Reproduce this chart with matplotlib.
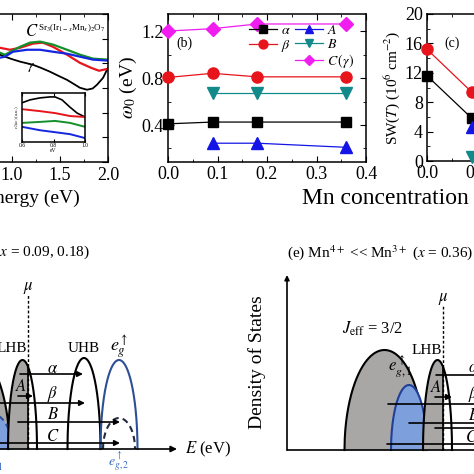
import numpy as np
import matplotlib.pyplot as plt
from matplotlib.ticker import MultipleLocator
from matplotlib.lines import Line2D

plt.rcParams['font.family'] = ['Liberation Serif', 'DejaVu Serif']
plt.rcParams['mathtext.fontset'] = 'stix'
plt.rcParams['axes.linewidth'] = 1.1
plt.rcParams['xtick.direction'] = 'in'
plt.rcParams['ytick.direction'] = 'in'
plt.rcParams['xtick.top'] = True
plt.rcParams['ytick.right'] = True
plt.rcParams['xtick.major.size'] = 4
plt.rcParams['ytick.major.size'] = 4
plt.rcParams['xtick.minor.size'] = 2.5
plt.rcParams['ytick.minor.size'] = 2.5

# (a) optical conductivity (arb. units)
e_black = [0.85, 0.875, 0.927, 1.0, 1.083, 1.219, 1.30, 1.396, 1.48, 1.573, 1.708, 1.781, 1.84, 1.885, 1.948, 2.0]
s_black = [4.38, 4.35, 4.27, 4.17, 4.07, 3.94, 3.82, 3.66, 3.50, 3.33, 3.01, 2.93, 2.98, 3.13, 3.41, 3.82]
e_red = [0.85, 0.875, 0.979, 1.083, 1.219, 1.32, 1.427, 1.573, 1.708, 1.823, 1.906, 2.0]
s_red = [4.65, 4.63, 4.55, 4.63, 4.80, 4.84, 4.67, 4.35, 4.02, 3.82, 3.70, 3.78]
e_green = [0.85, 0.875, 0.927, 1.083, 1.188, 1.292, 1.427, 1.573, 1.708, 1.844, 2.0]
s_green = [4.45, 4.43, 4.35, 4.67, 4.84, 4.88, 4.76, 4.55, 4.35, 4.19, 4.15]
e_blue = [0.85, 0.875, 0.927, 1.01, 1.156, 1.292, 1.427, 1.573, 1.708, 1.844, 2.0]
s_blue = [4.22, 4.23, 4.27, 4.47, 4.55, 4.55, 4.47, 4.39, 4.27, 4.15, 4.11]

# (a) inset
ins_e = [0.6, 0.651, 0.714, 0.778, 0.81, 0.854, 0.905, 0.95, 1.0]
ins_black = [0.80, 0.86, 0.90, 0.92, 0.92, 0.86, 0.71, 0.59, 0.51]
ins_e5 = [0.6, 0.714, 0.81, 0.905, 1.0]
ins_red = [0.67, 0.63, 0.59, 0.53, 0.51]
ins_green = [0.39, 0.41, 0.43, 0.39, 0.31]
ins_blue = [0.31, 0.24, 0.20, 0.16, 0.08]

# (b) peak energies
mn_x = [0.0, 0.09, 0.18, 0.36]
w_alpha = [0.41, 0.425, 0.425, 0.425]
w_beta = [0.805, 0.84, 0.81, 0.81]
w_C = [1.20, 1.22, 1.26, 1.26]
mn_x_AB = [0.09, 0.18, 0.36]
w_A = [0.245, 0.245, 0.21]
w_B = [0.675, 0.675, 0.675]

# (c) spectral weight
sw_x = [0.0, 0.09]
sw_beta = [15.2, 9.4]
sw_alpha = [11.6, 5.85]
sw_x_AB = [0.09]
sw_A = [4.6]
sw_B = [0.5]

# (d)/(e) schematic bands: name, centre, half width, height
bands_d = {'Jeff': (9.75, 4.0, 10.0), 'eg1': (12.0, 2.0, 3.5), 'LHB': (15.05, 1.45, 8.9),
           'UHB': (21.2, 1.65, 9.1), 'eg': (24.7, 1.85, 8.9), 'eg2': (24.7, 1.6, 3.1)}
bands_e = {'Jeff': (9.75, 4.0, 10.0), 'eg1': (12.2, 1.8, 6.5), 'LHB': (15.05, 1.45, 9.0)}
mu = 15.6
# transitions: start, end, height
trans_d = {'alpha': (14.8, 21.1, 7.5), 'A': (14.6, 16.1, 5.3), 'beta': (10.1, 21.3, 4.6),
           'B': (14.6, 24.8, 2.7), 'C': (10.0, 24.8, 0.6)}
trans_e = {'alpha': (14.9, 21.1, 7.5), 'A': (14.8, 16.5, 5.3), 'beta': (10.1, 21.3, 4.6),
           'B': (12.2, 24.8, 2.7), 'B2': (14.8, 24.8, 2.2), 'C': (10.0, 24.8, 0.6)}

W = 474
fig = plt.figure(figsize=(4.74, 4.74), dpi=100)


def px_axes(l, t, r, b):
    return fig.add_axes([l / W, 1 - b / W, (r - l) / W, (b - t) / W])


# ---- (a)
ax_a = px_axes(-45.6, 14, 108, 162)
ax_a.plot(e_black, s_black, color='k', lw=1.3)
ax_a.plot(e_red, s_red, color='#e8141c', lw=1.6)
ax_a.plot(e_green, s_green, color='#12902a', lw=1.6)
ax_a.plot(e_blue, s_blue, color='#1426e0', lw=1.6)
ax_a.set_xlim(0.4, 2.0)
ax_a.set_ylim(0, 6)
ax_a.xaxis.set_major_locator(MultipleLocator(0.5))
ax_a.xaxis.set_minor_locator(MultipleLocator(0.25))
ax_a.yaxis.set_major_locator(MultipleLocator(1))
ax_a.set_yticklabels([])
ax_a.tick_params(labelsize=13)
ax_a.set_xlabel('Energy (eV)', fontsize=14, labelpad=4)
ax_a.text(0.505, 0.88, '$C$', transform=ax_a.transAxes, fontsize=12, ha='center', va='center')
ax_a.text(0.545, 0.905, 'Sr$_3$(Ir$_{1-x}$Mn$_x$)$_2$O$_7$', transform=ax_a.transAxes,
          fontsize=6.5, ha='left', va='center')
ax_a.text(0.50, 0.64, r'$\gamma$', transform=ax_a.transAxes, fontsize=10, ha='center', va='center')

ins = px_axes(22, 93, 85, 142)
ins.plot(ins_e, ins_black, color='k', lw=1.2)
ins.plot(ins_e5, ins_red, color='#e8141c', lw=1.4)
ins.plot(ins_e5, ins_green, color='#12902a', lw=1.4)
ins.plot(ins_e5, ins_blue, color='#1426e0', lw=1.4)
ins.set_xlim(0.6, 1.0)
ins.set_ylim(0, 1)
ins.set_xticks([0.6, 0.8, 1.0])
ins.set_yticks([])
ins.tick_params(labelsize=4, length=2, pad=1)
ins.set_xlabel('eV', fontsize=4, labelpad=0)
ins.set_ylabel(r'$\varepsilon_2(\omega)$ (a.u.)', fontsize=3.5, labelpad=1)

# ---- (b)
ax_b = px_axes(168, 14, 366, 162)
h_alpha, = ax_b.plot(mn_x, w_alpha, color='k', marker='s', ms=7, lw=0.9, clip_on=False, zorder=3)
h_beta, = ax_b.plot(mn_x, w_beta, color='#e8141c', marker='o', ms=8, lw=0.9, clip_on=False, zorder=3)
h_C, = ax_b.plot(mn_x, w_C, color='#f01cf0', marker='D', ms=7, lw=0.9, clip_on=False, zorder=3)
h_A, = ax_b.plot(mn_x_AB, w_A, color='#1414e6', marker='^', ms=8, lw=0.9, clip_on=False, zorder=3)
h_B, = ax_b.plot(mn_x_AB, w_B, color='#138a8a', marker='v', ms=8, lw=0.9, clip_on=False, zorder=3)
ax_b.set_xlim(0, 0.4)
ax_b.set_ylim(0.085, 1.345)
ax_b.xaxis.set_major_locator(MultipleLocator(0.1))
ax_b.xaxis.set_minor_locator(MultipleLocator(0.05))
ax_b.yaxis.set_major_locator(MultipleLocator(0.4))
ax_b.yaxis.set_minor_locator(MultipleLocator(0.2))
ax_b.tick_params(labelsize=13, pad=3)
ax_b.set_ylabel(r'$\omega_0$ (eV)', fontsize=14, labelpad=2)
ax_b.text(0.083, 0.80, '(b)', transform=ax_b.transAxes, fontsize=10, ha='center', va='center')
blank = Line2D([], [], linestyle='none')
ax_b.legend([h_alpha, h_beta, blank, h_A, h_B, h_C],
            [r'$\alpha$', r'$\beta$', '', '$A$', '$B$', r'$C\,(\gamma)$'],
            ncol=2, loc='upper left', bbox_to_anchor=(0.41, 0.93), frameon=False,
            fontsize=10, handlelength=2.0, handletextpad=0.3, columnspacing=0.3,
            labelspacing=0.05, borderpad=0, borderaxespad=0, markerscale=0.8)

# ---- (c)
ax_c = px_axes(427, 14, 625, 161)
ax_c.plot(sw_x, sw_beta, color='#e8141c', marker='o', ms=8, lw=0.9, clip_on=False, zorder=3)
ax_c.plot(sw_x, sw_alpha, color='k', marker='s', ms=7, lw=0.9, clip_on=False, zorder=3)
ax_c.plot(sw_x_AB, sw_A, color='#1414e6', marker='^', ms=8, lw=0.9, clip_on=False, zorder=3)
ax_c.plot(sw_x_AB, sw_B, color='#138a8a', marker='v', ms=8, lw=0.9, clip_on=False, zorder=3)
ax_c.set_xlim(0, 0.4)
ax_c.set_ylim(0, 20)
ax_c.xaxis.set_major_locator(MultipleLocator(0.1))
ax_c.xaxis.set_minor_locator(MultipleLocator(0.05))
ax_c.yaxis.set_major_locator(MultipleLocator(4))
ax_c.yaxis.set_minor_locator(MultipleLocator(2))
ax_c.tick_params(labelsize=13, pad=3)
ax_c.set_ylabel(r'SW($T$) (10$^6$ cm$^{-2}$)', fontsize=11, labelpad=2)
ax_c.text(0.126, 0.80, '(c)', transform=ax_c.transAxes, fontsize=10, ha='center', va='center')

fig.text(302 / W, 1 - 199 / W, 'Mn concentration', fontsize=17, ha='left', va='center')


# ---- schematic helpers
def dome(c, hw, h):
    x = np.linspace(c - hw, c + hw, 300)
    y = h * np.sqrt(np.clip(1 - ((x - c) / hw) ** 2, 0, None))
    return x, y


def draw_band(ax, band, face=None, edge='k', ls='-', upto=None, z=2):
    x, y = dome(*band)
    if face is not None:
        m = x <= upto if upto is not None else np.ones_like(x, dtype=bool)
        ax.fill_between(x[m], 0, y[m], color=face, lw=0, zorder=z)
        if upto is not None:
            hm = np.interp(upto, x, y)
            ax.plot([upto, upto], [0, hm], color='k', lw=1.2, zorder=z + 0.5)
    ax.plot(x, y, color=edge, lw=1.5, ls=ls, zorder=z + 0.6)


def draw_trans(ax, tr, head=True):
    s, e, y = tr
    ax.annotate('', xy=(e, y), xytext=(s, y),
                arrowprops=dict(arrowstyle='-|>' if head else '-', lw=1.2, color='k',
                                mutation_scale=8, shrinkA=0, shrinkB=0), zorder=6)


gray = '#a9a7a6'
bluef = '#7d9fdc'
bluee = '#2d4f96'

# ---- (d)
ax_d = px_axes(-148, 240, 250, 470)
ax_d.set_xlim(-2.0, 37.8)
ax_d.set_ylim(-2.1, 20.9)
ax_d.axis('off')
draw_band(ax_d, bands_d['Jeff'], face=gray, z=1)
draw_band(ax_d, bands_d['eg1'], face=bluef, edge=bluee, ls=(0, (3, 2)), z=2)
draw_band(ax_d, bands_d['LHB'], face=gray, upto=mu, z=3)
draw_band(ax_d, bands_d['UHB'])
draw_band(ax_d, bands_d['eg'], edge=bluee)
draw_band(ax_d, bands_d['eg2'], edge='#222a40', ls=(0, (3, 2)))
ax_d.plot([mu, mu], [0, 15.4], color='k', lw=1, ls=(0, (2, 1.5)), zorder=4)
ax_d.annotate('', xy=(30.5, 0), xytext=(0, 0),
              arrowprops=dict(arrowstyle='-|>', lw=1.2, color='k', mutation_scale=9,
                              shrinkA=0, shrinkB=0), zorder=7)
for k in trans_d:
    draw_trans(ax_d, trans_d[k])
ax_d.text(31.3, 0, '$E$ (eV)', fontsize=12, ha='left', va='center')
ax_d.text(mu, 16.1, r'$\mu$', fontsize=12, ha='center', va='center')
ax_d.text(14.0, 10.1, 'LHB', fontsize=11, ha='center', va='center')
ax_d.text(21.2, 10.1, 'UHB', fontsize=11, ha='center', va='center')
ax_d.text(24.7, 10.2, r'$e_g^{\uparrow}$', fontsize=13, ha='center', va='center')
ax_d.text(24.7, -1.2, r'$e_{g,2}^{\uparrow}$', fontsize=10, ha='center', va='center', color='#3b6cc0')
ax_d.text(12.1, -1.4, r'$e_{g,1}^{\uparrow}$', fontsize=10, ha='center', va='center', color='#3b6cc0')
labels_d = {'alpha': (r'$\alpha$', 18.1, 8.0), 'A': ('$A$', 14.9, 6.2), 'beta': (r'$\beta$', 18.1, 5.5),
            'B': ('$B$', 18.1, 3.4), 'C': ('$C$', 18.1, 1.2)}
for k in labels_d:
    t, x, y = labels_d[k]
    ax_d.text(x, y, t, fontsize=12, ha='center', va='center', zorder=8)
ax_d.text(21.8, 19.7, '(d) Mn$^{4+}$ < Mn$^{3+}$ ($x$ = 0.09, 0.18)', fontsize=11,
          ha='right', va='center')

# ---- (e)
ax_e = px_axes(240, 240, 620, 470)
ax_e.set_xlim(-4.7, 33.3)
ax_e.set_ylim(-2.0, 21.0)
ax_e.axis('off')
draw_band(ax_e, bands_e['Jeff'], face=gray, z=1)
draw_band(ax_e, bands_e['eg1'], face=bluef, edge='#1f3f99', z=2)
draw_band(ax_e, bands_e['LHB'], face=gray, upto=mu, z=3)
ax_e.plot([mu, mu], [0, 14.5], color='k', lw=1, ls=(0, (2, 1.5)), zorder=4)
ax_e.annotate('', xy=(30.5, 0), xytext=(0, 0),
              arrowprops=dict(arrowstyle='-|>', lw=1.2, color='k', mutation_scale=9,
                              shrinkA=0, shrinkB=0), zorder=7)
ax_e.annotate('', xy=(0, 17.5), xytext=(0, 0),
              arrowprops=dict(arrowstyle='-|>', lw=1.2, color='k', mutation_scale=7,
                              shrinkA=0, shrinkB=0), zorder=7)
for k in trans_e:
    draw_trans(ax_e, trans_e[k])
ax_e.text(mu, 15.1, r'$\mu$', fontsize=12, ha='center', va='center')
ax_e.text(14.0, 10.0, 'LHB', fontsize=11, ha='center', va='center', zorder=8)
ax_e.text(8.6, 12.1, r'$J_{\rm eff}$ = 3/2', fontsize=12, ha='center', va='center')
ax_e.text(11.3, 8.3, r'$e_{g,1}^{\uparrow}$', fontsize=12, ha='center', va='center', zorder=8)
labels_e = {'alpha': (r'$\alpha$', 18.7, 8.2), 'A': ('$A$', 14.9, 6.2), 'beta': (r'$\beta$', 18.7, 5.6),
            'B': ('$B$', 18.7, 3.4), 'C': ('$C$', 18.5, 1.2)}
for k in labels_e:
    t, x, y = labels_e[k]
    ax_e.text(x, y, t, fontsize=12, ha='center', va='center', zorder=8)
ax_e.text(-3.0, 8.8, 'Density of States', fontsize=14, rotation=90, ha='center', va='center')
ax_e.text(9.3, 19.7, '(e) Mn$^{4+}$ << Mn$^{3+}$ ($x$ = 0.36)', fontsize=11, ha='center', va='center')

fig.savefig('out.png', dpi=100)
